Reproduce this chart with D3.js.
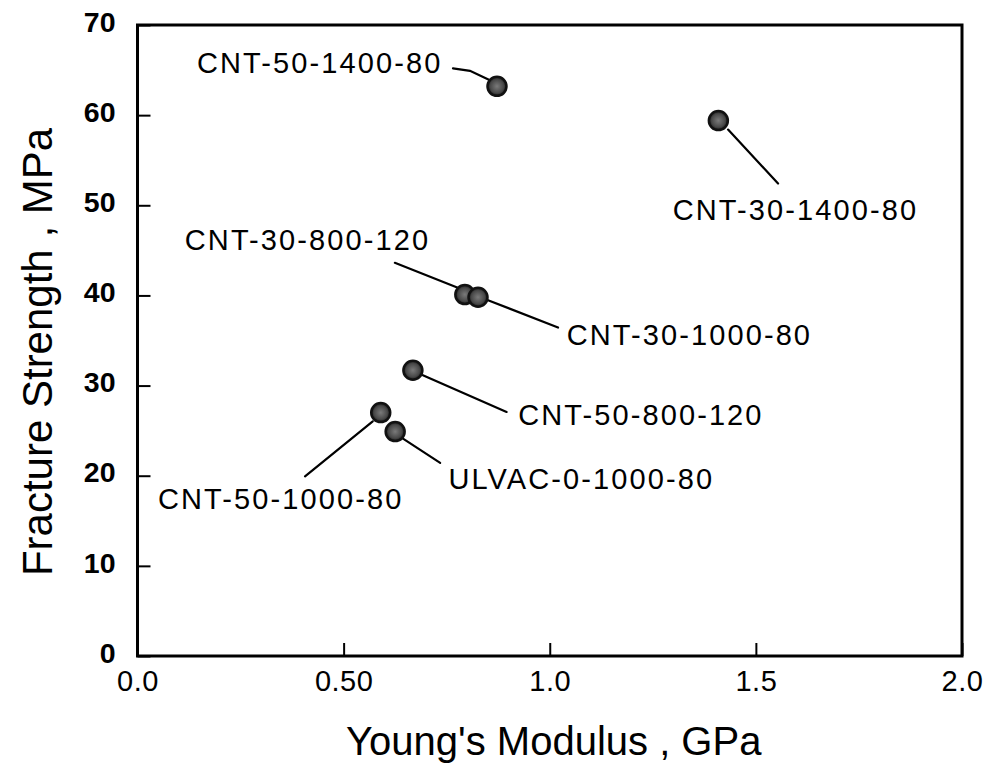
<!DOCTYPE html>
<html>
<head>
<meta charset="utf-8">
<script src="https://cdn.jsdelivr.net/npm/d3@7/dist/d3.min.js"></script>
<style>
  html, body { margin: 0; padding: 0; background: #fff; }
  svg { display: block; }
  text { font-family: "Liberation Sans", Arial, Helvetica, sans-serif; fill: #000; }
</style>
</head>
<body>
<svg id="chart" width="989" height="769"></svg>
<script>
// ---- data ----
const sampleNames = [
  "CNT-50-1400-80",
  "CNT-30-1400-80",
  "CNT-30-800-120",
  "CNT-30-1000-80",
  "CNT-50-800-120",
  "CNT-50-1000-80",
  "ULVAC-0-1000-80"
];
const youngsModulusGPa = [0.872, 1.409, 0.794, 0.826, 0.668, 0.590, 0.625];
const fractureStrengthMPa = [63.2, 59.4, 40.1, 39.8, 31.7, 27.0, 24.9];

const xTickValues = [0, 0.5, 1.0, 1.5, 2.0];
const xTickLabels = ["0.0", "0.50", "1.0", "1.5", "2.0"];
const yTickValues = [0, 10, 20, 30, 40, 50, 60, 70];
const yTickLabels = ["0", "10", "20", "30", "40", "50", "60", "70"];

const xTitle = "Young's Modulus , GPa";
const yTitle = "Fracture Strength , MPa";

// ---- annotation layout (pixel offsets from each marker centre) ----
const labelLayout = [
  { label: [-300, -13], line: [[-44, -18], [-27, -15.5], [-7, -6]] },
  { label: [-45.6, 99], line: [[9.7, 9], [59.7, 63]] },
  { label: [-280, -45], line: [[-70, -31.7], [-7, -6.7]] },
  { label: [88.7, 48], line: [[10, 3], [80, 30.3]] },
  { label: [105.3, 55], line: [[10, 5], [93.7, 41.7]] },
  { label: [-222.7, 96], line: [[-75.7, 63.7], [-8, 8.7]] },
  { label: [53.3, 57.3], line: [[6.7, 6.3], [45, 31.3]] }
];

// ---- layout ----
const plot = { left: 137.5, right: 962, top: 25, bottom: 656 };
const svg = d3.select("#chart");

const x = d3.scaleLinear().domain([0, 2.0]).range([plot.left, plot.right]);
const y = d3.scaleLinear().domain([0, 70]).range([plot.bottom, plot.top]);

const points = sampleNames.map((name, i) => ({
  name,
  xv: youngsModulusGPa[i],
  yv: fractureStrengthMPa[i],
  layout: labelLayout[i]
}));

// x axis (ticks pointing inward)
const xAxis = d3.axisBottom(x)
  .tickValues(xTickValues)
  .tickFormat((d, i) => xTickLabels[i])
  .tickSize(-13)
  .tickPadding(14);

const gx = svg.append("g")
  .attr("transform", `translate(0,${plot.bottom})`)
  .call(xAxis);
gx.select(".domain").remove();
gx.selectAll(".tick line").attr("stroke", "#000").attr("stroke-width", 2);
gx.selectAll(".tick text")
  .attr("font-size", 29)
  .attr("font-family", "'Liberation Sans', Arial, sans-serif")
  .attr("letter-spacing", 0.5)
  .attr("fill", "#000");

// y axis (ticks pointing inward)
const yAxis = d3.axisLeft(y)
  .tickValues(yTickValues)
  .tickFormat((d, i) => yTickLabels[i])
  .tickSize(-13)
  .tickPadding(22);

const gy = svg.append("g")
  .attr("transform", `translate(${plot.left},0)`)
  .call(yAxis);
gy.select(".domain").remove();
gy.selectAll(".tick line").attr("stroke", "#000").attr("stroke-width", 2);
gy.selectAll(".tick text")
  .attr("font-size", 28.5)
  .attr("font-weight", "bold")
  .attr("font-family", "'Liberation Sans', Arial, sans-serif")
  .attr("dy", "0.22em")
  .attr("fill", "#000");

// frame
svg.append("rect")
  .attr("x", plot.left)
  .attr("y", plot.top)
  .attr("width", plot.right - plot.left)
  .attr("height", plot.bottom - plot.top)
  .attr("fill", "none")
  .attr("stroke", "#000")
  .attr("stroke-width", 3);

// axis titles
svg.append("text")
  .attr("x", (plot.left + plot.right) / 2 + 4)
  .attr("y", 755)
  .attr("text-anchor", "middle")
  .attr("font-size", 40)
  .text(xTitle);

svg.append("text")
  .attr("transform", `translate(52,352) rotate(-90)`)
  .attr("text-anchor", "middle")
  .attr("font-size", 42)
  .text(yTitle);

// leader lines
const lineGen = d3.line();
svg.append("g").selectAll("path")
  .data(points)
  .join("path")
  .attr("d", d => {
    const cx = x(d.xv), cy = y(d.yv);
    return lineGen(d.layout.line.map(p => [cx + p[0], cy + p[1]]));
  })
  .attr("fill", "none")
  .attr("stroke", "#000")
  .attr("stroke-width", 2.2)
  .attr("stroke-linecap", "round");

// markers
const defs = svg.append("defs");
const grad = defs.append("radialGradient").attr("id", "dotfill");
grad.append("stop").attr("offset", "0%").attr("stop-color", "#7a7a7a");
grad.append("stop").attr("offset", "70%").attr("stop-color", "#484848");
grad.append("stop").attr("offset", "100%").attr("stop-color", "#1a1a1a");

svg.append("g").selectAll("circle")
  .data(points)
  .join("circle")
  .attr("cx", d => x(d.xv))
  .attr("cy", d => y(d.yv))
  .attr("r", 9.5)
  .attr("fill", "url(#dotfill)")
  .attr("stroke", "#111")
  .attr("stroke-width", 2.5);

// labels
svg.append("g").selectAll("text")
  .data(points)
  .join("text")
  .attr("x", d => x(d.xv) + d.layout.label[0])
  .attr("y", d => y(d.yv) + d.layout.label[1])
  .attr("font-size", 29)
  .attr("letter-spacing", 2.1)
  .text(d => d.name);
</script>
</body>
</html>
